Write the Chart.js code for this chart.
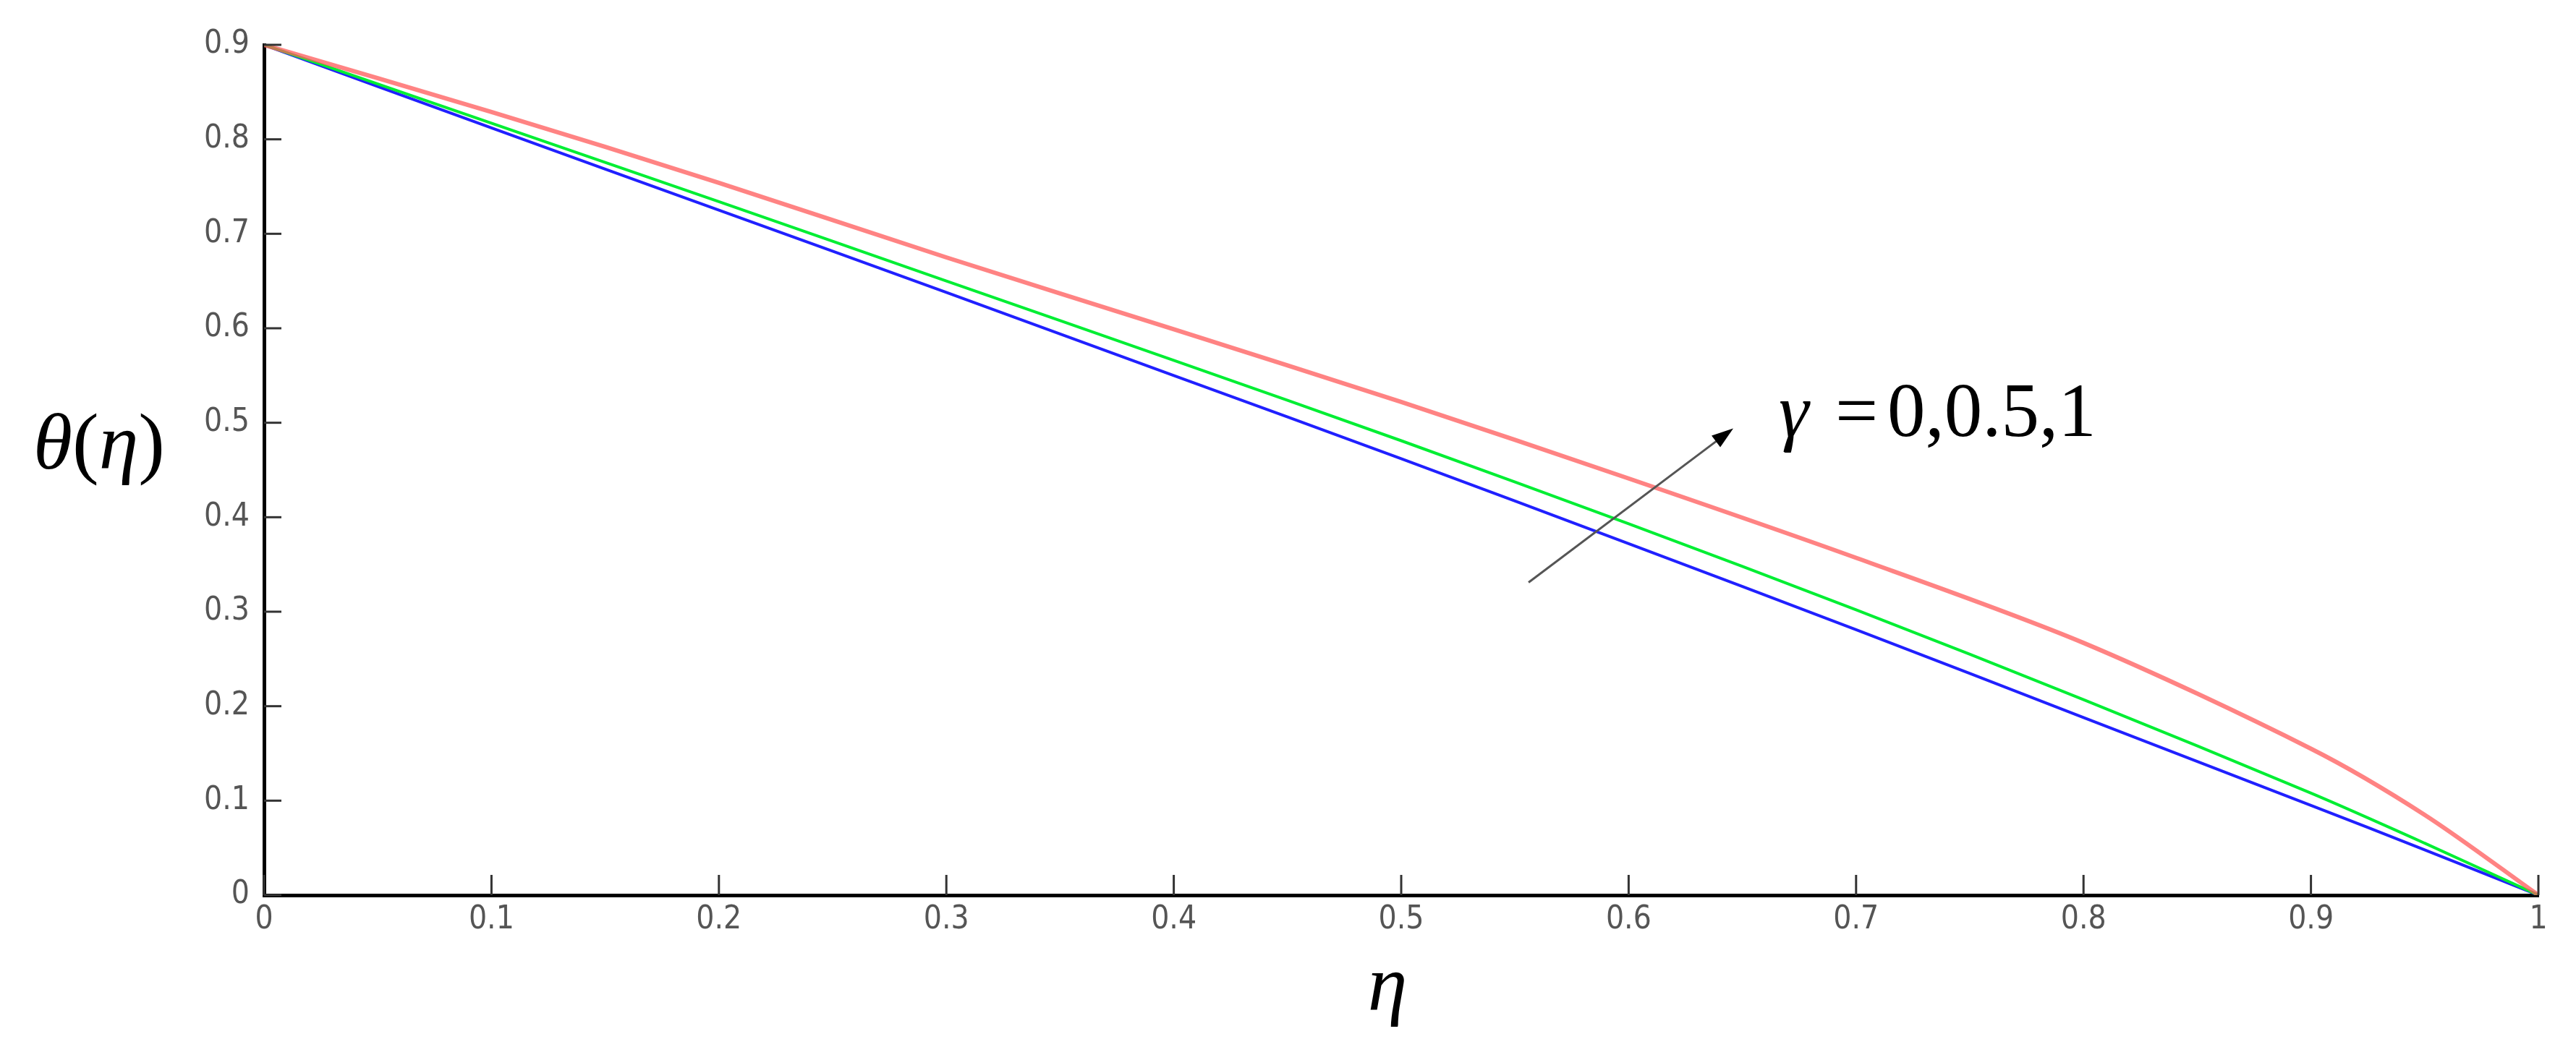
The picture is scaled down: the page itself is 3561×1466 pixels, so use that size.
<!DOCTYPE html>
<html>
<head>
<meta charset="utf-8">
<title>theta(eta) profiles</title>
<script src="https://cdn.jsdelivr.net/npm/chart.js@4.4.1/dist/chart.umd.min.js"></script>
<style>
  html, body { margin: 0; padding: 0; background: #fff; }
  canvas { display: block; }
</style>
</head>
<body>
<canvas id="chart" width="3561" height="1466"></canvas>
<script>
const eta = [0, 0.1, 0.2, 0.3, 0.4, 0.5, 0.6, 0.7, 0.8, 0.9, 0.95, 1];

// theta(eta) for gamma = 0, 0.5, 1
const thetaGamma0 = [0.900, 0.812, 0.725, 0.638, 0.550, 0.462, 0.372, 0.281, 0.188, 0.095, 0.048, 0];
const thetaGamma05 = [0.900, 0.817, 0.734, 0.650, 0.566, 0.481, 0.393, 0.302, 0.207, 0.108, 0.055, 0];
const thetaGamma1 = [0.900, 0.829, 0.754, 0.675, 0.599, 0.522, 0.441, 0.357, 0.267, 0.155, 0.085, 0];

const xTickLabels = ['0', '0.1', '0.2', '0.3', '0.4', '0.5', '0.6', '0.7', '0.8', '0.9', '1'];
const yTickLabels = ['0', '0.1', '0.2', '0.3', '0.4', '0.5', '0.6', '0.7', '0.8', '0.9'];

const toPoints = (ys) => eta.map((x, i) => ({ x: x, y: ys[i] }));

const tickFont = { family: '"DejaVu Sans Condensed", "Liberation Sans Narrow", "Liberation Sans", sans-serif', size: 44 };
const serif = '"Liberation Serif", "DejaVu Serif", serif';

// write a run of text pieces, italic or upright, one after another
function drawMixed(ctx, pieces, x, y, size) {
  pieces.forEach(([txt, italic]) => {
    ctx.font = (italic ? 'italic ' : '') + size + 'px ' + serif;
    ctx.fillText(txt, x, y);
    x += ctx.measureText(txt).width;
  });
}

// inner ticks, axis titles and the gamma arrow
const decorations = {
  id: 'decorations',
  afterDraw(chart) {
    const ctx = chart.ctx;
    const xs = chart.scales.x;
    const ys = chart.scales.y;
    const area = chart.chartArea;

    ctx.save();
    ctx.strokeStyle = '#333';
    ctx.lineWidth = 3;
    xs.ticks.forEach(t => {
      const px = xs.getPixelForValue(t.value);
      ctx.beginPath();
      ctx.moveTo(px, area.bottom);
      ctx.lineTo(px, area.bottom - 28);
      ctx.stroke();
    });
    ys.ticks.forEach(t => {
      const py = ys.getPixelForValue(t.value);
      ctx.beginPath();
      ctx.moveTo(area.left, py);
      ctx.lineTo(area.left + 24, py);
      ctx.stroke();
    });

    // axis titles
    ctx.fillStyle = '#000';
    ctx.textBaseline = 'alphabetic';
    ctx.textAlign = 'left';
    drawMixed(ctx, [['θ', true], ['(', false], ['η', true], [')', false]], 46, 648, 110);
    ctx.textAlign = 'center';
    ctx.font = 'italic 110px ' + serif;
    ctx.fillText('η', xs.getPixelForValue(0.494), 1397);

    // arrow
    const x0 = xs.getPixelForValue(0.556), y0 = ys.getPixelForValue(0.331);
    const x1 = xs.getPixelForValue(0.646), y1 = ys.getPixelForValue(0.494);
    const ang = Math.atan2(y1 - y0, x1 - x0);
    ctx.strokeStyle = '#555';
    ctx.lineWidth = 3;
    ctx.beginPath();
    ctx.moveTo(x0, y0);
    ctx.lineTo(x1 - 18 * Math.cos(ang), y1 - 18 * Math.sin(ang));
    ctx.stroke();
    ctx.fillStyle = '#000';
    ctx.beginPath();
    ctx.moveTo(x1, y1);
    ctx.lineTo(x1 - 30 * Math.cos(ang) + 10 * Math.sin(ang), y1 - 30 * Math.sin(ang) - 10 * Math.cos(ang));
    ctx.lineTo(x1 - 30 * Math.cos(ang) - 10 * Math.sin(ang), y1 - 30 * Math.sin(ang) + 10 * Math.cos(ang));
    ctx.closePath();
    ctx.fill();

    // gamma label
    const tx = xs.getPixelForValue(0.666);
    const ty = ys.getPixelForValue(0.486);
    ctx.textAlign = 'left';
    ctx.font = 'italic 105px ' + serif;
    ctx.fillText('γ', tx, ty);
    ctx.font = '105px ' + serif;
    ctx.fillText('=', tx + 78, ty);
    ctx.fillText('0,0.5,1', tx + 150, ty);
    ctx.restore();
  }
};

new Chart(document.getElementById('chart'), {
  type: 'line',
  data: {
    datasets: [
      { label: 'γ = 1', data: toPoints(thetaGamma1), borderColor: 'rgba(255, 90, 90, 0.75)', borderWidth: 6 },
      { label: 'γ = 0.5', data: toPoints(thetaGamma05), borderColor: '#00ee33', borderWidth: 4 },
      { label: 'γ = 0', data: toPoints(thetaGamma0), borderColor: '#2020ff', borderWidth: 4 }
    ]
  },
  options: {
    responsive: false,
    animation: false,
    devicePixelRatio: 1,
    layout: { padding: { top: 62, right: 52, bottom: 0, left: 0 } },
    elements: {
      point: { radius: 0 },
      line: { tension: 0.3, fill: false }
    },
    plugins: {
      legend: { display: false },
      tooltip: { enabled: false }
    },
    scales: {
      x: {
        type: 'linear',
        min: 0,
        max: 1,
        afterFit: (s) => { s.height = 228; },
        ticks: {
          stepSize: 0.1,
          padding: 8,
          color: '#555',
          font: tickFont,
          maxRotation: 0,
          autoSkip: false,
          callback: (v, i) => xTickLabels[i]
        },
        grid: { display: false, drawTicks: false },
        border: { display: true, color: '#000', width: 5 }
      },
      y: {
        type: 'linear',
        min: 0,
        max: 0.9,
        afterFit: (s) => { s.width = 365; },
        ticks: {
          stepSize: 0.1,
          padding: 20,
          color: '#555',
          font: tickFont,
          autoSkip: false,
          callback: (v, i) => yTickLabels[i]
        },
        grid: { display: false, drawTicks: false },
        border: { display: true, color: '#000', width: 5 }
      }
    }
  },
  plugins: [decorations]
});
</script>
</body>
</html>
